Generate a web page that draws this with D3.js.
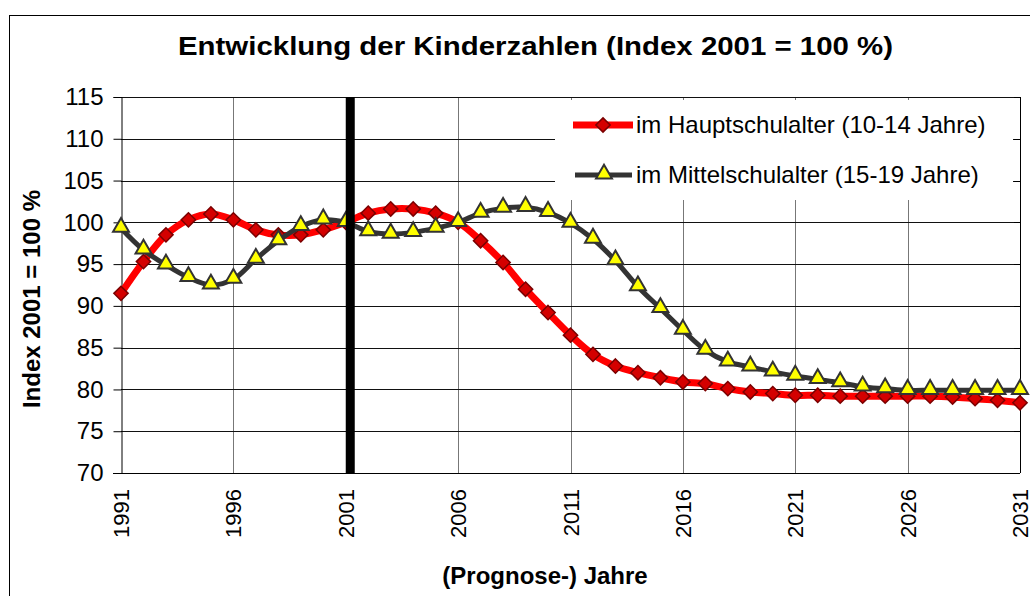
<!DOCTYPE html>
<html>
<head>
<meta charset="utf-8">
<script src="https://cdn.jsdelivr.net/npm/d3@7"></script>
<style>
  body { margin: 0; background: #fff; }
  svg { display: block; font-family: "Liberation Sans", Arial, sans-serif; }
</style>
</head>
<body>
<div id="chart"></div>
<script>
// data
var years = d3.range(1991, 2032);
var hauptschule = [91.5, 95.3, 98.5, 100.3, 101.0, 100.3, 99.1, 98.5, 98.5, 99.1,
  100.0, 101.1, 101.6, 101.6, 101.1, 100.0, 97.8, 95.2, 92.0, 89.2,
  86.5, 84.2, 82.8, 82.0, 81.4, 80.9, 80.7, 80.1, 79.7, 79.5,
  79.3, 79.3, 79.2, 79.2, 79.2, 79.2, 79.2, 79.1, 78.9, 78.7, 78.4];
var mittelschule = [99.3, 96.7, 94.9, 93.4, 92.5, 93.2, 95.6, 97.8, 99.5, 100.3,
  100.0, 98.9, 98.6, 98.8, 99.3, 100.0, 101.1, 101.7, 101.8, 101.2,
  99.9, 98.0, 95.4, 92.3, 89.7, 87.1, 84.7, 83.3, 82.7, 82.1,
  81.6, 81.2, 80.8, 80.3, 80.1, 79.9, 79.9, 79.9, 79.9, 79.9, 79.9];
var seriesNames = ["im Hauptschulalter (10-14 Jahre)", "im Mittelschulalter (15-19 Jahre)"];
var yTicks = d3.range(70, 116, 5);
var xTicks = d3.range(1991, 2032, 5);
var markYear = 2001;

var width = 1030, height = 596;
var plot = {left: 121, right: 1020, top: 97, bottom: 473};

var svg = d3.select("#chart").append("svg")
  .attr("width", width)
  .attr("height", height);

// outer frame
svg.append("rect")
  .attr("x", 9.5).attr("y", 15.5)
  .attr("width", 1030).attr("height", 600)
  .attr("fill", "#fff").attr("stroke", "#000").attr("stroke-width", 1);

var x = d3.scaleLinear().domain([1991, 2031]).range([plot.left, plot.right]);
var y = d3.scaleLinear().domain([70, 115]).range([plot.bottom, plot.top]);

// grid
svg.append("g").selectAll("line")
  .data(xTicks.slice(1))
  .enter().append("line")
  .attr("x1", function(d) { return Math.round(x(d)) + 0.5; })
  .attr("x2", function(d) { return Math.round(x(d)) + 0.5; })
  .attr("y1", plot.top).attr("y2", plot.bottom)
  .attr("stroke", function(d) { return d == 2031 ? "#000" : "#777"; })
  .attr("stroke-width", 1);

svg.append("g").selectAll("line")
  .data(yTicks.slice(1))
  .enter().append("line")
  .attr("x1", plot.left).attr("x2", plot.right)
  .attr("y1", function(d) { return Math.round(y(d)) + 0.5; })
  .attr("y2", function(d) { return Math.round(y(d)) + 0.5; })
  .attr("stroke", "#111")
  .attr("stroke-width", 1);

// legend background hides the grid
var legend = svg.append("g");
legend.append("rect")
  .attr("x", 555).attr("y", 100)
  .attr("width", 458).attr("height", 100)
  .attr("fill", "#fff");

// axes
var yAxis = svg.append("g")
  .attr("transform", "translate(" + (plot.left + 0.5) + ",0)")
  .call(d3.axisLeft(y).tickValues(yTicks).tickSize(8).tickPadding(10));
yAxis.select(".domain").attr("stroke", "#000");
yAxis.selectAll("text")
  .attr("font-size", 24).attr("fill", "#000")
  .style("font-family", "Liberation Sans, Arial, sans-serif");

// right side little ticks
svg.append("g").selectAll("line")
  .data(yTicks)
  .enter().append("line")
  .attr("x1", plot.right - 6).attr("x2", plot.right)
  .attr("y1", function(d) { return Math.round(y(d)) + 0.5; })
  .attr("y2", function(d) { return Math.round(y(d)) + 0.5; })
  .attr("stroke", "#000");

svg.append("line")
  .attr("x1", plot.left - 8).attr("x2", plot.right)
  .attr("y1", Math.round(y(70)) + 0.5).attr("y2", Math.round(y(70)) + 0.5)
  .attr("stroke", "#000");

svg.append("g").selectAll("text")
  .data(xTicks)
  .enter().append("text")
  .attr("transform", function(d) { return "translate(" + (x(d) + 8) + "," + 489 + ") rotate(-90)"; })
  .attr("text-anchor", "end")
  .attr("font-size", 22)
  .text(function(d) { return d; });

// lines
var line = d3.line()
  .x(function(d, i) { return x(years[i]); })
  .y(function(d) { return y(d); })
  .curve(d3.curveCatmullRom.alpha(0.5));

svg.append("path")
  .datum(hauptschule)
  .attr("d", line)
  .attr("fill", "none")
  .attr("stroke", "#ff0000")
  .attr("stroke-width", 7)
  .attr("stroke-linejoin", "round");

var diamond = d3.symbol().type(d3.symbolDiamond2).size(130);
svg.append("g").selectAll("path")
  .data(hauptschule)
  .enter().append("path")
  .attr("d", diamond)
  .attr("transform", function(d, i) { return "translate(" + x(years[i]) + "," + y(d) + ")"; })
  .attr("fill", "#d40000")
  .attr("stroke", "#7a0000")
  .attr("stroke-width", 1.5);

svg.append("path")
  .datum(mittelschule)
  .attr("d", line)
  .attr("fill", "none")
  .attr("stroke", "#333333")
  .attr("stroke-width", 5)
  .attr("stroke-linejoin", "round");

var triangle = d3.symbol().type(d3.symbolTriangle).size(110);
svg.append("g").selectAll("path")
  .data(mittelschule)
  .enter().append("path")
  .attr("d", triangle)
  .attr("transform", function(d, i) { return "translate(" + x(years[i]) + "," + (y(d) - 1) + ")"; })
  .attr("fill", "#ffff00")
  .attr("stroke", "#333333")
  .attr("stroke-width", 2);

// marker bar at 2001
svg.append("rect")
  .attr("x", x(markYear))
  .attr("y", plot.top)
  .attr("width", 9)
  .attr("height", plot.bottom - plot.top)
  .attr("fill", "#000");

// legend items
var legendY = [125, 175];
legend.append("line")
  .attr("x1", 573).attr("x2", 633).attr("y1", legendY[0]).attr("y2", legendY[0])
  .attr("stroke", "#ff0000").attr("stroke-width", 7);
legend.append("path")
  .attr("d", diamond)
  .attr("transform", "translate(603," + legendY[0] + ")")
  .attr("fill", "#d40000").attr("stroke", "#7a0000").attr("stroke-width", 1.5);
legend.append("line")
  .attr("x1", 575).attr("x2", 632).attr("y1", legendY[1]).attr("y2", legendY[1])
  .attr("stroke", "#333333").attr("stroke-width", 5);
legend.append("path")
  .attr("d", triangle)
  .attr("transform", "translate(604," + (legendY[1] - 1) + ")")
  .attr("fill", "#ffff00").attr("stroke", "#333333").attr("stroke-width", 2);
legend.selectAll("text.lbl")
  .data(seriesNames)
  .enter().append("text")
  .attr("class", "lbl")
  .attr("x", 636)
  .attr("y", function(d, i) { return legendY[i] + 8; })
  .attr("font-size", 24)
  .text(function(d) { return d; });

// titles
svg.append("text")
  .attr("x", 535.5).attr("y", 55)
  .attr("text-anchor", "middle")
  .attr("font-size", 26).attr("font-weight", "bold")
  .attr("textLength", 715).attr("lengthAdjust", "spacingAndGlyphs")
  .text("Entwicklung der Kinderzahlen (Index 2001 = 100 %)");

svg.append("text")
  .attr("transform", "translate(40,299) rotate(-90)")
  .attr("text-anchor", "middle")
  .attr("font-size", 24).attr("font-weight", "bold")
  .text("Index 2001 = 100 %");

svg.append("text")
  .attr("x", 545).attr("y", 584)
  .attr("text-anchor", "middle")
  .attr("font-size", 24).attr("font-weight", "bold")
  .text("(Prognose-) Jahre");
</script>
</body>
</html>
